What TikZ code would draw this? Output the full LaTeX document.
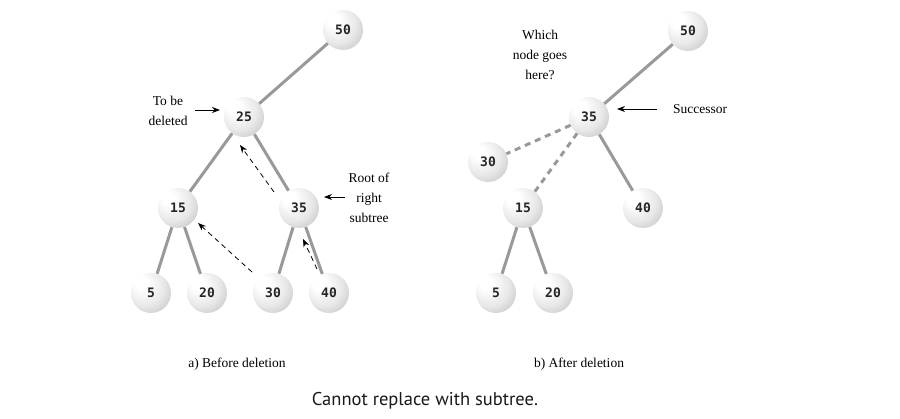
\documentclass[tikz,border=0pt]{standalone}
\usepackage{fontspec}
\setmainfont{Liberation Serif}
\newfontfamily\monof{DejaVu Sans Mono}
\newfontfamily\capf{PT Sans}
\usetikzlibrary{arrows.meta}
\pgfdeclareradialshading{nodeball}{\pgfqpoint{-15bp}{15bp}}{color(0bp)=(white); color(8bp)=(white); color(24bp)=(black!9); color(36bp)=(black!22); color(46bp)=(black!38); color(50bp)=(black!48)}
\tikzset{
  nd/.style={circle, minimum size=40pt, inner sep=0pt, shading=nodeball, font=\monof\bfseries\fontsize{13}{13}\selectfont, text=black!85},
  edgeline/.style={draw=black!40, line width=3pt},
  ddash/.style={draw=black!40, line width=3pt, dash pattern=on 6pt off 5pt},
  lbl/.style={font=\fontsize{13.5}{20}\selectfont, align=center},
  arr/.style={-{Stealth[length=8pt,width=6pt]}, line width=0.8pt},
  darr/.style={arr, dash pattern=on 5pt off 4pt},
}
\begin{document}
\begin{tikzpicture}[x=1pt,y=-1pt]
\useasboundingbox (0,0) rectangle (900,419);
% left tree
\node[nd] (n50) at (343,30) {50};
\node[nd] (n25) at (244,117) {25};
\node[nd] (n15) at (178,208) {15};
\node[nd] (n35) at (299,208) {35};
\node[nd] (n5) at (151,293) {5};
\node[nd] (n20) at (207,293) {20};
\node[nd] (n30) at (273,293) {30};
\node[nd] (n40) at (329,293) {40};
\draw[edgeline] (n50) -- (n25);
\draw[edgeline] (n25) -- (n15);
\draw[edgeline] (n25) -- (n35);
\draw[edgeline] (n15) -- (n5);
\draw[edgeline] (n15) -- (n20);
\draw[edgeline] (n35) -- (n30);
\draw[edgeline] (n35) -- (n40);
\draw[darr] ([shift={(-25,-16)}]n35.center) -- ([shift={(-4,28)}]n25.center);
\draw[darr] ([shift={(-21,-21)}]n30.center) -- ([shift={(20,15)}]n15.center);
\draw[darr] ([shift={(-12,-24)}]n40.center) -- ([shift={(4,31)}]n35.center);
\node[lbl] (tobe) at (168,111) {To be\\deleted};
\coordinate (t25) at (220,110);
\draw[arr] ([xshift=4pt]tobe.east |- t25) -- (t25);
\node[lbl] (rootof) at (369,198) {Root of\\right\\subtree};
\coordinate (troot) at (324,197);
\draw[arr] (rootof.west |- troot) -- (troot);
% right tree
\node[nd] (m50) at (688,31) {50};
\node[nd] (m35) at (589,117) {35};
\node[nd] (m30) at (488,162) {30};
\node[nd] (m15) at (523,208) {15};
\node[nd] (m40) at (643,208) {40};
\node[nd] (m5) at (496,293) {5};
\node[nd] (m20) at (553,293) {20};
\draw[edgeline] (m50) -- (m35);
\draw[edgeline] (m35) -- (m40);
\draw[edgeline] (m15) -- (m5);
\draw[edgeline] (m15) -- (m20);
\draw[ddash] (m35) -- (m30);
\draw[ddash] (m35) -- (m15);
\node[lbl] (which) at (540,55) {Which\\node goes\\here?};
\node[lbl] (succ) at (700,109) {Successor};
\coordinate (tsucc) at (617,109);
\draw[arr] ([xshift=-12pt]succ.west) -- (tsucc);
% captions
\node[lbl] (capa) at (237,364) {a) Before deletion};
\node[lbl] (capb) at (579,364) {b) After deletion};
\node[font=\capf\fontsize{18.5}{18.5}\selectfont, text=black!90] (capmain) at (425,401) {Cannot replace with subtree.};
\end{tikzpicture}
\end{document}
